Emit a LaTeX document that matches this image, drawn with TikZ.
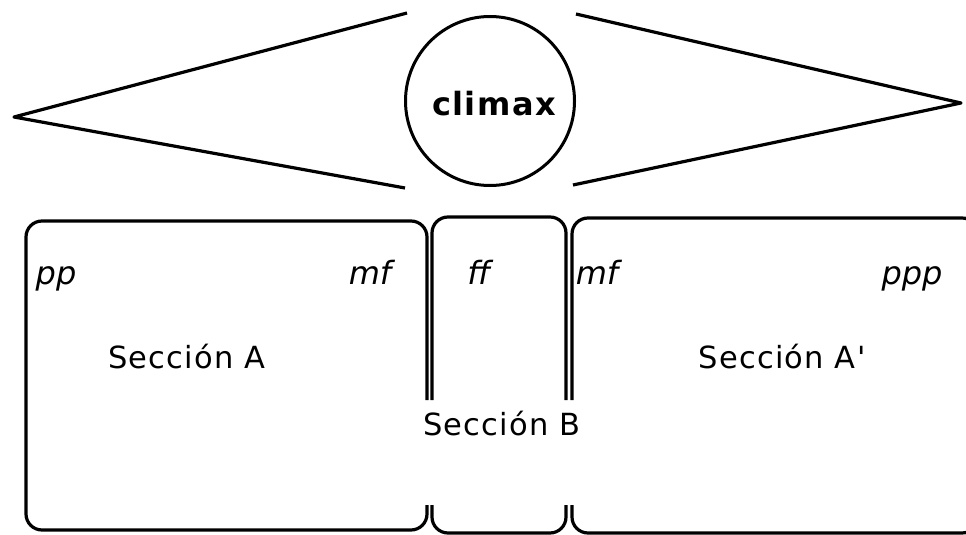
\documentclass[tikz,border=0pt]{standalone}
\usepackage{fontspec}
\setmainfont{DejaVu Sans}
\newfontfamily\spacedfont{DejaVu Sans}[LetterSpace=4]
\newfontfamily\climaxfont{DejaVu Sans}[LetterSpace=4.5]
\begin{document}
\begin{tikzpicture}[x=1pt,y=-1pt,
  line/.style={line width=3.2pt,line join=round},
  boxline/.style={line width=3.2pt,rounded corners=16pt},
  sect/.style={anchor=base,inner sep=0pt,font=\spacedfont\fontsize{30.5}{30.5}\selectfont},
  dyn/.style={anchor=base,inner sep=0pt,font=\itshape\fontsize{32}{32}\selectfont},
  climaxnode/.style={circle,draw,line width=3pt,minimum size=169pt,inner sep=0pt}]
\useasboundingbox (0,0) rectangle (966,535);
\clip (0,0) rectangle (966,535);
% climax circle
\node[climaxnode] (cl) at (490,101) {};
\node[anchor=base,inner sep=0pt,font=\climaxfont\bfseries\fontsize{32}{32}\selectfont] (cltext) at (494,115) {climax};
% wedges
\coordinate (lu) at (407,13);
\coordinate (lt) at (14,117);
\coordinate (ll) at (405,188);
\coordinate (ru) at (576,14);
\coordinate (rt) at (961,103);
\coordinate (rl) at (573,185);
\draw[line] (lu) -- (lt) -- (ll);
\draw[line] (ru) -- (rt) -- (rl);
% boxes
\draw[boxline] (427,400) -- (427,221) -- (26,221) -- (26,530) -- (427,530) -- (427,505);
\draw[boxline] (432,400) -- (432,217) -- (566,217) -- (566,400);
\draw[boxline] (432,505) -- (432,533) -- (566,533) -- (566,505);
\draw[boxline] (572,400) -- (572,218) -- (978,218) -- (978,533) -- (572,533) -- (572,505);
% dynamics
\node[dyn] (pp) at (56,284) {pp};
\node[dyn] (mfa) at (370,284) {mf};
\node[dyn] (ff) at (479,284) {ff};
\node[dyn] (mfb) at (597,284) {mf};
\node[dyn] (ppp) at (912,284) {ppp};
% sections
\node[sect] (sa) at (187,368) {Sección A};
\node[sect] (sb) at (502,435) {Sección B};
\node[sect] (sa2) at (782,368) {Sección A'};
\end{tikzpicture}
\end{document}
